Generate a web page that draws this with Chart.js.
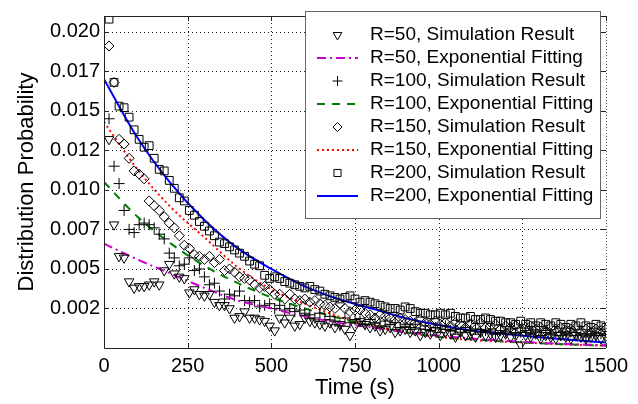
<!DOCTYPE html>
<html>
<head>
<meta charset="utf-8">
<script src="https://cdn.jsdelivr.net/npm/chart.js@4.4.1/dist/chart.umd.min.js"></script>
<style>
html, body { margin: 0; padding: 0; background: #fff; }
#wrap { width: 638px; height: 404px; position: relative; }
</style>
</head>
<body>
<div id="wrap"><canvas id="chart1"></canvas></div>
<script>
var simTimes = [15, 30, 45, 60, 75, 90, 105, 120, 135, 150, 165, 180, 195, 210, 225, 240, 255, 270, 285, 300,
    315, 330, 345, 360, 375, 390, 405, 420, 435, 450, 465, 480, 495, 510, 525, 540, 555, 570, 585, 600,
    615, 630, 645, 660, 675, 690, 705, 720, 735, 750, 765, 780, 795, 810, 825, 840, 855, 870, 885, 900,
    915, 930, 945, 960, 975, 990, 1005, 1020, 1035, 1050, 1065, 1080, 1095, 1110, 1125, 1140, 1155, 1170, 1185, 1200,
    1215, 1230, 1245, 1260, 1275, 1290, 1305, 1320, 1335, 1350, 1365, 1380, 1395, 1410, 1425, 1440, 1455, 1470, 1485, 1500];

var fitTimes = [0, 100, 200, 300, 400, 500, 600, 700, 800, 900, 1000, 1100, 1200, 1300, 1400, 1500];

// R=50
var sim50 = [0.0132, 0.0078, 0.0058, 0.0057, 0.0042, 0.0038, 0.0039, 0.0039, 0.0040, 0.0042,
    0.0040, 0.0049, 0.0053, 0.0047, 0.0045, 0.0044, 0.0035, 0.0037, 0.0034, 0.0033,
    0.0034, 0.0029, 0.0027, 0.0027, 0.0025, 0.0019, 0.0020, 0.0023, 0.0019, 0.0019,
    0.0018, 0.0017, 0.0014, 0.0011, 0.0019, 0.0016, 0.0019, 0.0014, 0.0015, 0.0019,
    0.0017, 0.0016, 0.0015, 0.0014, 0.0016, 0.0013, 0.0015, 0.0012, 0.0008, 0.0014,
    0.0017, 0.0015, 0.0013, 0.0014, 0.0011, 0.0012, 0.0013, 0.0010, 0.0011, 0.0012,
    0.0010, 0.0011, 0.0008, 0.0010, 0.0009, 0.0011, 0.0008, 0.0010, 0.0009, 0.0007,
    0.0010, 0.0008, 0.0009, 0.0007, 0.0010, 0.0008, 0.0009, 0.0007, 0.0008, 0.0009,
    0.0007, 0.0008, 0.0002, 0.0008, 0.0007, 0.0009, 0.0006, 0.0008, 0.0007, 0.0006,
    0.0008, 0.0007, 0.0006, 0.0008, 0.0007, 0.0006, 0.0007, 0.0008, 0.0006, 0.0007];
var fit50 = [0.0066, 0.0056, 0.0047, 0.0038, 0.0030, 0.0025, 0.0020, 0.0016, 0.0013, 0.0010, 0.00078, 0.0006, 0.00045, 0.00033, 0.00024, 0.00017];

// R=100
var sim100 = [0.0145, 0.0115, 0.0104, 0.0087, 0.0075, 0.0073, 0.0078, 0.0079, 0.0078, 0.0076,
    0.0072, 0.0069, 0.0060, 0.0057, 0.0052, 0.0053, 0.0057, 0.0049, 0.0050, 0.0045,
    0.0040, 0.0041, 0.0036, 0.0031, 0.0034, 0.0033, 0.0036, 0.0030, 0.0029, 0.0030,
    0.0026, 0.0027, 0.0028, 0.0025, 0.0027, 0.0024, 0.0025, 0.0023, 0.0024, 0.0022,
    0.0021, 0.0019, 0.0022, 0.0018, 0.0020, 0.0017, 0.0014, 0.0019, 0.0016, 0.0018,
    0.0017, 0.0015, 0.0018, 0.0016, 0.0014, 0.0017, 0.0015, 0.0016, 0.0013, 0.0015,
    0.0013, 0.0015, 0.0012, 0.0014, 0.0011, 0.0013, 0.0012, 0.0014, 0.0011, 0.0012,
    0.0010, 0.0013, 0.0011, 0.0012, 0.0010, 0.0011, 0.0012, 0.0009, 0.0011, 0.0010,
    0.0012, 0.0009, 0.0010, 0.0011, 0.0009, 0.0010, 0.0008, 0.0011, 0.0009, 0.0010,
    0.0008, 0.0009, 0.0010, 0.0008, 0.0009, 0.0007, 0.0009, 0.0008, 0.0009, 0.0008];
var fit100 = [0.0105, 0.0083, 0.0066, 0.0052, 0.0041, 0.0032, 0.0025, 0.0019, 0.0014, 0.0010, 0.0007, 0.00055, 0.0004, 0.0003, 0.00022, 0.00016];

// R=150
var sim150 = [0.0191, 0.0168, 0.0132, 0.0129, 0.0120, 0.0112, 0.0110, 0.0107, 0.0093, 0.0090,
    0.0087, 0.0083, 0.0079, 0.0076, 0.0071, 0.0065, 0.0063, 0.0059, 0.0058, 0.0056,
    0.0058, 0.0054, 0.0056, 0.0049, 0.0050, 0.0048, 0.0045, 0.0044, 0.0043, 0.0040,
    0.0038, 0.0039, 0.0037, 0.0034, 0.0034, 0.0031, 0.0034, 0.0031, 0.0030, 0.0031,
    0.0029, 0.0030, 0.0028, 0.0027, 0.0026, 0.0025, 0.0028, 0.0025, 0.0023, 0.0024,
    0.0024, 0.0022, 0.0021, 0.0019, 0.0021, 0.0020, 0.0019, 0.0018, 0.0019, 0.0018,
    0.0017, 0.0016, 0.0018, 0.0016, 0.0015, 0.0017, 0.0015, 0.0016, 0.0014, 0.0016,
    0.0015, 0.0013, 0.0015, 0.0014, 0.0016, 0.0013, 0.0014, 0.0015, 0.0012, 0.0014,
    0.0013, 0.0014, 0.0012, 0.0013, 0.0014, 0.0012, 0.0013, 0.0011, 0.0013, 0.0012,
    0.0013, 0.0011, 0.0012, 0.0013, 0.0011, 0.0012, 0.0010, 0.0012, 0.0011, 0.0012];
var fit150 = [0.0143, 0.0113, 0.0089, 0.0070, 0.0051, 0.0037, 0.0028, 0.0020, 0.0014, 0.0010, 0.0007, 0.0005, 0.0004, 0.0003, 0.0002, 0.00015];

// R=200
var sim200 = [0.0208, 0.0168, 0.0153, 0.0152, 0.0146, 0.0138, 0.0132, 0.0127, 0.0128, 0.0120,
    0.0113, 0.0112, 0.0106, 0.0101, 0.0095, 0.0093, 0.0087, 0.0084, 0.0080, 0.0077,
    0.0074, 0.0071, 0.0067, 0.0066, 0.0064, 0.0062, 0.0060, 0.0058, 0.0055, 0.0053,
    0.0052, 0.0046, 0.0044, 0.0045, 0.0044, 0.0042, 0.0041, 0.0040, 0.0039, 0.0038,
    0.0039, 0.0037, 0.0036, 0.0034, 0.0033, 0.0032, 0.0031, 0.0032, 0.0033, 0.0031,
    0.0029, 0.0030, 0.0029, 0.0028, 0.0027, 0.0026, 0.0025, 0.0025, 0.0024, 0.0026,
    0.0025, 0.0023, 0.0022, 0.0022, 0.0021, 0.0021, 0.0022, 0.0021, 0.0022, 0.0020,
    0.0019, 0.0019, 0.0020, 0.0018, 0.0018, 0.0019, 0.0018, 0.0017, 0.0017, 0.0016,
    0.0016, 0.0015, 0.0017, 0.0015, 0.0016, 0.0014, 0.0016, 0.0015, 0.0014, 0.0016,
    0.0015, 0.0013, 0.0015, 0.0014, 0.0016, 0.0014, 0.0013, 0.0015, 0.0014, 0.0013];
var fit200 = [0.0170, 0.0133, 0.0104, 0.0081, 0.0063, 0.0050, 0.0039, 0.0031, 0.0025, 0.0019, 0.00145, 0.0011, 0.00088, 0.00068, 0.0005, 0.00035];

var yTickValues = [0.0025, 0.005, 0.0075, 0.01, 0.0125, 0.015, 0.0175, 0.02];
var yTickLabels = ['0.002', '0.005', '0.007', '0.010', '0.012', '0.015', '0.017', '0.020'];

var legendLabels = [
    'R=50, Simulation Result', 'R=50, Exponential Fitting',
    'R=100, Simulation Result', 'R=100, Exponential Fitting',
    'R=150, Simulation Result', 'R=150, Exponential Fitting',
    'R=200, Simulation Result', 'R=200, Exponential Fitting'
];

var toPoints = function (xs, ys) {
    var data = [];
    for (var i = 0; i < xs.length; ++i) {
        data.push({x: xs[i], y: ys[i]});
    }
    return data;
};

var simSet = function (label, ys, style, radius, rotation) {
    return {
        label: label,
        data: toPoints(simTimes, ys),
        showLine: false,
        pointStyle: style,
        pointRadius: radius,
        pointRotation: rotation,
        pointBorderWidth: 1,
        pointBorderColor: '#000',
        pointBackgroundColor: 'rgba(0,0,0,0)',
        borderColor: '#000',
        backgroundColor: 'rgba(0,0,0,0)'
    };
};

var fitSet = function (label, ys, color, dash) {
    return {
        label: label,
        data: toPoints(fitTimes, ys),
        showLine: true,
        pointRadius: 0,
        borderWidth: 2,
        borderColor: color,
        backgroundColor: color,
        borderDash: dash,
        cubicInterpolationMode: 'monotone'
    };
};

Chart.defaults.font.family = '"Liberation Sans", Arial, sans-serif';
Chart.defaults.color = '#000';

// dotted grid (matlab look), drawn under the data
var gridPlugin = {
    id: 'dotgrid',
    beforeDatasetsDraw: function (chart) {
        var ctx = chart.ctx;
        var a = chart.chartArea;
        var xs = chart.scales.x;
        var ys = chart.scales.y;
        ctx.save();
        ctx.strokeStyle = '#222';
        ctx.lineWidth = 1;
        ctx.setLineDash([1, 3]);
        ctx.beginPath();
        xs.ticks.forEach(function (t) {
            if (t.value <= xs.min || t.value >= xs.max) return;
            var px = Math.round(xs.getPixelForValue(t.value)) + 0.5;
            ctx.moveTo(px, a.bottom);
            ctx.lineTo(px, a.top);
        });
        ys.ticks.forEach(function (t) {
            var py = Math.round(ys.getPixelForValue(t.value)) + 0.5;
            ctx.moveTo(a.left, py);
            ctx.lineTo(a.right, py);
        });
        ctx.stroke();
        ctx.restore();
    }
};

// frame, inner tick marks and the legend box inside the plot
var framePlugin = {
    id: 'frame',
    afterDatasetsDraw: function (chart) {
        var ctx = chart.ctx;
        var a = chart.chartArea;
        var xs = chart.scales.x;
        var ys = chart.scales.y;
        ctx.save();
        ctx.strokeStyle = '#222';
        ctx.lineWidth = 1;
        ctx.beginPath();
        ctx.moveTo(a.left + 0.5, a.top + 0.5);
        ctx.lineTo(a.right, a.top + 0.5);
        ctx.moveTo(a.left + 0.5, a.top);
        ctx.lineTo(a.left + 0.5, a.bottom + 0.5);
        ctx.lineTo(a.right, a.bottom + 0.5);
        ctx.stroke();
        ctx.setLineDash([1, 2]);
        ctx.strokeStyle = '#555';
        ctx.beginPath();
        ctx.moveTo(a.right + 0.5, a.top);
        ctx.lineTo(a.right + 0.5, a.bottom);
        ctx.stroke();
        ctx.setLineDash([]);
        ctx.strokeStyle = '#222';
        ctx.beginPath();
        xs.ticks.forEach(function (t) {
            var px = Math.round(xs.getPixelForValue(t.value)) + 0.5;
            ctx.moveTo(px, a.bottom);
            ctx.lineTo(px, a.bottom - 5);
            ctx.moveTo(px, a.top);
            ctx.lineTo(px, a.top + 5);
        });
        ys.ticks.forEach(function (t) {
            var py = Math.round(ys.getPixelForValue(t.value)) + 0.5;
            ctx.moveTo(a.left, py);
            ctx.lineTo(a.left + 5, py);
            ctx.moveTo(a.right, py);
            ctx.lineTo(a.right - 5, py);
        });
        ctx.stroke();

        // legend
        var bx = 305, by = 11, bw = 295, bh = 207;
        ctx.fillStyle = '#fff';
        ctx.fillRect(bx, by, bw, bh);
        ctx.strokeStyle = '#666';
        ctx.strokeRect(bx + 0.5, by + 0.5, bw, bh);
        ctx.font = '19px "Liberation Sans", Arial, sans-serif';
        ctx.textBaseline = 'middle';
        ctx.textAlign = 'left';
        chart.data.datasets.forEach(function (ds, i) {
            var cy = 35 + i * 23.0;
            if (ds.showLine) {
                ctx.save();
                ctx.strokeStyle = ds.borderColor;
                ctx.lineWidth = 2;
                ctx.setLineDash(ds.borderDash || []);
                ctx.beginPath();
                ctx.moveTo(317, cy);
                ctx.lineTo(358, cy);
                ctx.stroke();
                ctx.restore();
            } else {
                ctx.save();
                ctx.fillStyle = 'rgba(0,0,0,0)';
                ctx.strokeStyle = '#000';
                ctx.lineWidth = 1;
                Chart.helpers.drawPoint(ctx, {
                    pointStyle: ds.pointStyle,
                    radius: ds.pointRadius - 0.5,
                    rotation: ds.pointRotation || 0,
                    borderWidth: 1
                }, 337.5, cy);
                ctx.restore();
            }
            ctx.fillStyle = '#000';
            ctx.fillText(legendLabels[i], 370, cy);
        });
        ctx.restore();
    }
};

var ctx1 = document.getElementById('chart1').getContext('2d');

new Chart(ctx1, {
    type: 'scatter',
    data: {
        datasets: [
            simSet(legendLabels[0], sim50, 'triangle', 5.5, 180),
            fitSet(legendLabels[1], fit50, '#cc00cc', [9, 4, 2, 4]),
            simSet(legendLabels[2], sim100, 'cross', 5.5, 0),
            fitSet(legendLabels[3], fit100, '#008000', [8, 7]),
            simSet(legendLabels[4], sim150, 'rectRot', 5, 0),
            fitSet(legendLabels[5], fit150, '#ff0000', [2, 3]),
            simSet(legendLabels[6], sim200, 'rect', 5.5, 0),
            fitSet(legendLabels[7], fit200, '#0000ff', [])
        ]
    },
    options: {
        responsive: true,
        maintainAspectRatio: false,
        animation: false,
        devicePixelRatio: 1,
        layout: {padding: {left: 0, right: 32, top: 4, bottom: 0}},
        plugins: {
            legend: {display: false},
            tooltip: {enabled: false}
        },
        scales: {
            x: {
                type: 'linear',
                min: 0,
                max: 1500,
                ticks: {
                    stepSize: 250,
                    padding: 6,
                    font: {size: 20},
                    maxRotation: 0,
                    callback: function (value) { return String(value); }
                },
                grid: {display: false, drawTicks: false},
                border: {display: false},
                title: {display: true, text: 'Time (s)', font: {size: 22}, padding: {top: 0, bottom: 3}},
                afterFit: function (scale) { scale.height = 56; }
            },
            y: {
                type: 'linear',
                min: 0,
                max: 0.021,
                afterBuildTicks: function (scale) {
                    scale.ticks = yTickValues.map(function (v) { return {value: v}; });
                },
                ticks: {
                    padding: 4,
                    font: {size: 20},
                    callback: function (value, index) { return yTickLabels[index]; }
                },
                grid: {display: false, drawTicks: false},
                border: {display: false},
                title: {display: true, text: 'Distribution Probability', font: {size: 22}, padding: {top: 14, bottom: 0}},
                afterFit: function (scale) { scale.width = 104; }
            }
        }
    },
    plugins: [gridPlugin, framePlugin]
});
</script>
</body>
</html>
